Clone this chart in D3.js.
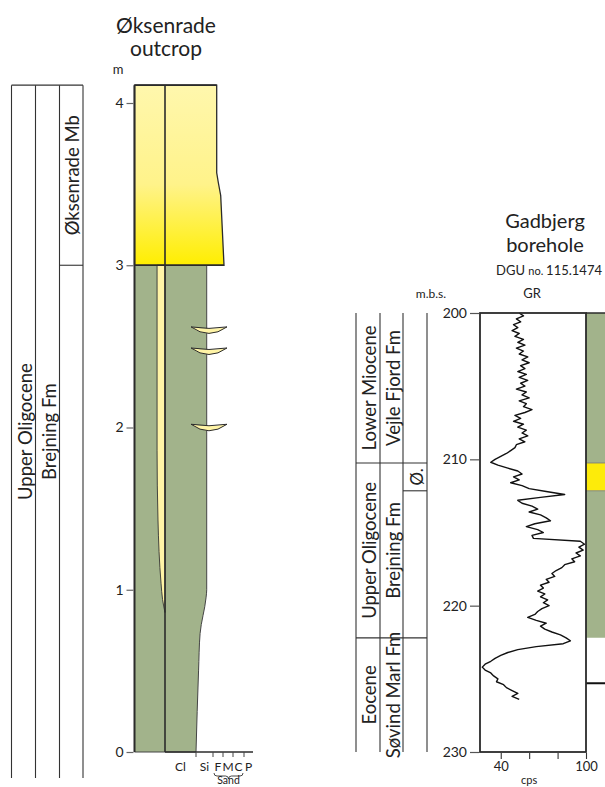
<!DOCTYPE html>
<html><head><meta charset="utf-8">
<script src="https://cdn.jsdelivr.net/npm/d3@7/dist/d3.min.js"></script>
<style>body{margin:0;background:#fff} svg{display:block;font-family:Lato,"Open Sans",sans-serif}</style>
</head><body>
<svg id="c" width="605" height="787"></svg>
<script>
// ---------- DATA: outcrop ----------
const outcropTicks = [0, 1, 2, 3, 4];
const grainLabels = ["Cl", "Si", "F", "M", "C", "P"];
const grainBoundaries = [1, 2, 3, 4, 5];
const outcropTop = 4.11;
const outcropBase = 0;
const unitBoundary = 3.0;
const greenProfileH = [0, 0.5, 0.73, 0.95, 1.0, 3.0];
const greenProfileG = [1.0, 1.15, 1.24, 1.59, 1.63, 1.63];
const yellowProfileH = [3.0, 3.43, 3.51, 3.57, 4.11];
const yellowProfileG = [3.1, 2.77, 2.53, 2.37, 2.37];
const wedgeH = [0.86, 0.94, 1.04, 1.43, 1.86, 3.0];
const wedgeW = [1.0, 0.92, 0.87, 0.77, 0.74, 0.74];
const lensHeights = [2.62, 2.49, 2.02];
const lensGrain = [0.84, 1.76, 3.4];
const leftEpochs = [{name: "Upper Oligocene", from: -0.16, to: 4.11}];
const leftFormations = [{name: "Brejning Fm", from: -0.16, to: 4.11}];
const leftMembers = [{name: "", from: -0.16, to: 3.0}, {name: "Øksenrade Mb", from: 3.0, to: 4.11}];

// ---------- DATA: borehole ----------
const depthTicks = [200, 210, 220, 230];
const cpsTicks = [40, 60, 80, 100];
const cpsLabels = [40, 100];
const rightEpochs = [{name: "Lower Miocene", from: 200, to: 210.25}, {name: "Upper Oligocene", from: 210.25, to: 222.2}, {name: "Eocene", from: 222.2, to: 230}];
const rightFormations = [{name: "Vejle Fjord Fm", from: 200, to: 210.25}, {name: "Brejning Fm", from: 210.25, to: 222.2}, {name: "Søvind Marl Fm", from: 222.2, to: 230}];
const rightMembers = [{name: "", from: 200, to: 210.25}, {name: "Ø.", from: 210.25, to: 212.15}, {name: "", from: 212.15, to: 222.2}, {name: "", from: 222.2, to: 230}];
const lithology = [{type: "mud", from: 200, to: 210.25}, {type: "sand", from: 210.25, to: 212.15}, {type: "mud", from: 212.15, to: 222.2}, {type: "none", from: 222.2, to: 230}];
const lithoLine = 225.3;
const grDepth = [200.0,200.2,200.4,200.6,200.8,201.0,201.2,201.4,201.6,201.8,202.0,202.2,202.4,202.6,202.8,203.0,203.2,203.4,203.6,203.8,204.0,204.2,204.4,204.6,204.8,205.0,205.2,205.4,205.6,205.8,206.0,206.2,206.4,206.6,206.8,207.0,207.2,207.4,207.6,207.8,208.0,208.2,208.4,208.6,208.8,209.0,209.2,209.4,209.6,209.8,210.0,210.2,210.4,210.6,210.8,211.0,211.2,211.4,211.6,211.8,212.0,212.2,212.4,212.6,212.8,213.0,213.2,213.4,213.6,213.8,214.0,214.2,214.4,214.6,214.8,215.0,215.2,215.4,215.6,215.8,216.0,216.2,216.4,216.6,216.8,217.0,217.2,217.4,217.6,217.8,218.0,218.2,218.4,218.6,218.8,219.0,219.2,219.4,219.6,219.8,220.0,220.2,220.4,220.6,220.8,221.0,221.2,221.4,221.6,221.8,222.0,222.2,222.4,222.6,222.8,223.0,223.2,223.4,223.6,223.8,224.0,224.2,224.4,224.6,224.8,225.0,225.2,225.4,225.6,225.8,226.0,226.2,226.4];
const grCps = [53,56,51,54,49,52,48,53,50,56,52,57,51,56,53,59,55,60,54,57,52,58,53,59,54,57,51,58,55,60,53,58,56,62,57,50,54,49,56,52,58,55,59,53,57,51,50,47,44,40,36,33,38,45,52,55,49,53,47,55,60,72,85,68,52,55,62,66,60,68,72,75,64,58,66,70,62,63,96,99,95,98,93,96,90,92,85,83,79,76,78,72,74,68,70,66,71,68,73,70,74,69,66,64,59,65,72,68,71,76,82,86,89,84,65,52,45,40,36,33,29,27,29,33,35,38,37,42,44,48,52,48,53];

// ---------- DRAW ----------
const svg = d3.select("#c");
const dark = "#2b2b2b", green = "#a2b38b", paleY = "#fff4a6";
const defs = svg.append("defs");
const g1 = defs.append("linearGradient").attr("id", "ygrad").attr("x1", 0).attr("y1", 0).attr("x2", 0).attr("y2", 1);
g1.append("stop").attr("offset", "0%").attr("stop-color", "#fff7ad");
g1.append("stop").attr("offset", "55%").attr("stop-color", "#fff38a");
g1.append("stop").attr("offset", "100%").attr("stop-color", "#ffee00");

// Outcrop scales
const yOut = d3.scaleLinear().domain([0, 4]).range([752, 103]);
const grainX = d3.scaleLinear().domain([0, 1, 2, 3, 4, 5, 6]).range([165, 196, 213, 223, 233, 244, 253]);
const colLeft = 134.5, colDiv = 165;
const wedgeX = d3.scaleLinear().domain([0, 1]).range([colLeft, colDiv]);

// titles
svg.append("text").attr("x", 166).attr("y", 33).attr("text-anchor", "middle").attr("font-size", 21).attr("fill", "#222").text("Øksenrade");
svg.append("text").attr("x", 166).attr("y", 56).attr("text-anchor", "middle").attr("font-size", 21).attr("fill", "#222").text("outcrop");
svg.append("text").attr("x", 118).attr("y", 74).attr("text-anchor", "middle").attr("font-size", 13).attr("fill", "#222").text("m");

// green body
const greenData = greenProfileH.map((h, i) => ({h, g: greenProfileG[i]}));
const areaG = d3.area().y(d => yOut(d.h)).x0(colLeft).x1(d => grainX(d.g)).curve(d3.curveMonotoneY);
svg.append("path").datum(greenData).attr("d", areaG).attr("fill", green).attr("stroke", "#444").attr("stroke-width", 1);

const yellowData = yellowProfileH.map((h, i) => ({h, g: yellowProfileG[i]}));
const areaY = d3.area().y(d => yOut(d.h)).x0(colLeft).x1(d => grainX(d.g)).curve(d3.curveLinear);
svg.append("path").datum(yellowData).attr("d", areaY).attr("fill", "url(#ygrad)").attr("stroke", dark).attr("stroke-width", 1.3);

// wedge
const wedgeData = wedgeH.map((h, i) => ({h, w: wedgeW[i]}));
const areaW = d3.area().y(d => yOut(d.h)).x0(d => wedgeX(d.w)).x1(colDiv).curve(d3.curveMonotoneY);
svg.append("path").datum(wedgeData).attr("d", areaW).attr("fill", paleY).attr("stroke", "#333").attr("stroke-width", 0.9);

// lenses
lensHeights.forEach(h => {
  const y = yOut(h), xl = grainX(lensGrain[0]), xm = grainX(lensGrain[1]), xr = grainX(lensGrain[2]);
  const p = d3.path();
  p.moveTo(xl, y);
  p.quadraticCurveTo(xm, y + 13, xr, y);
  p.quadraticCurveTo(xm, y + 3, xl, y);
  p.closePath();
  svg.append("path").attr("d", p.toString()).attr("fill", paleY).attr("stroke", dark).attr("stroke-width", 1);
});

// column borders
svg.append("line").attr("x1", colLeft).attr("x2", colLeft).attr("y1", yOut(outcropTop)).attr("y2", yOut(0)).attr("stroke", dark).attr("stroke-width", 2);
svg.append("line").attr("x1", colDiv).attr("x2", colDiv).attr("y1", yOut(outcropTop)).attr("y2", yOut(0)).attr("stroke", dark).attr("stroke-width", 1.6);
svg.append("line").attr("x1", colLeft).attr("x2", grainX(yellowProfileG[yellowProfileG.length-1])).attr("y1", yOut(outcropTop)).attr("y2", yOut(outcropTop)).attr("stroke", dark).attr("stroke-width", 1.6);
svg.append("line").attr("x1", colLeft).attr("x2", grainX(yellowProfileG[0])).attr("y1", yOut(unitBoundary)).attr("y2", yOut(unitBoundary)).attr("stroke", dark).attr("stroke-width", 1.6);

// left axis
const yAxisG = svg.append("g").attr("transform", `translate(${colLeft - 1},0)`)
  .call(d3.axisLeft(yOut).tickValues(outcropTicks).tickFormat(d3.format("d")).tickSize(7).tickPadding(3));
yAxisG.select(".domain").remove();
yAxisG.selectAll(".tick line").attr("stroke", "#666").attr("stroke-width", 1.2);
yAxisG.selectAll(".tick text").attr("font-size", 14).attr("fill", "#222").attr("font-family", "Lato");

// bottom grain axis
svg.append("line").attr("x1", colDiv).attr("x2", grainX(6)).attr("y1", yOut(0)).attr("y2", yOut(0)).attr("stroke", dark).attr("stroke-width", 1.6);
svg.selectAll(".gtick").data(grainBoundaries).join("line").attr("class", "gtick")
  .attr("x1", d => grainX(d)).attr("x2", d => grainX(d)).attr("y1", yOut(0)).attr("y2", yOut(0) + 5)
  .attr("stroke", "#444").attr("stroke-width", 1);
svg.selectAll(".glab").data(grainLabels).join("text").attr("class", "glab")
  .attr("x", (d, i) => grainX(i + 0.5)).attr("y", 771).attr("text-anchor", "middle")
  .attr("font-size", 12).attr("fill", "#222").text(d => d);
{
  const x0 = grainX(2) + 1, x1 = grainX(5) - 1, xm = (x0 + x1) / 2, y0 = 773;
  const b = `M${x0},${y0} q0,3 3,3 L${xm-3},${y0+3} q3,0 3,3 q0,-3 3,-3 L${x1-3},${y0+3} q3,0 3,-3`;
  svg.append("path").attr("d", b).attr("fill", "none").attr("stroke", "#333").attr("stroke-width", 0.9);
  svg.append("text").attr("x", xm).attr("y", 784).attr("text-anchor", "middle").attr("font-size", 10.5).attr("fill", "#222").text("Sand");
}

// left strat columns
const stratX = [11.5, 35.5, 59.5, 83];
const leftTopY = yOut(4.11), leftBotY = 778;
stratX.forEach(x => svg.append("line").attr("x1", x).attr("x2", x).attr("y1", leftTopY).attr("y2", leftBotY).attr("stroke", "#333").attr("stroke-width", 1.1));
svg.append("line").attr("x1", stratX[0]).attr("x2", stratX[3]).attr("y1", leftTopY).attr("y2", leftTopY).attr("stroke", "#333").attr("stroke-width", 1.1);
function stratText(list, xl, xr, yScale, size) {
  list.forEach(s => {
    if (!s.name) return;
    const cy = (yScale(s.from) + yScale(s.to)) / 2, cx = (xl + xr) / 2;
    svg.append("text").attr("transform", `translate(${cx + 1},${cy}) rotate(-90)`)
      .attr("text-anchor", "middle").attr("dominant-baseline", "central")
      .attr("font-size", size).attr("fill", "#222").text(s.name);
  });
}
function stratLines(list, xl, xr, yScale) {
  list.slice(1).forEach(s => {
    svg.append("line").attr("x1", xl).attr("x2", xr).attr("y1", yScale(s.from)).attr("y2", yScale(s.from)).attr("stroke", "#333").attr("stroke-width", 1.1);
  });
}
const yLeftStrat = d3.scaleLinear().domain([0, 4]).range([752, 103]);
stratText(leftEpochs, stratX[0], stratX[1], yLeftStrat, 18.5);
stratText(leftFormations, stratX[1], stratX[2], yLeftStrat, 18.5);
stratText(leftMembers, stratX[2], stratX[3], yLeftStrat, 18.5);
stratLines(leftMembers, stratX[2], stratX[3], yLeftStrat);

// ---------- Borehole ----------
const yB = d3.scaleLinear().domain([200, 230]).range([313, 752]);
const xGR = d3.scaleLinear().domain([25.4, 100]).range([480, 586]);
svg.append("text").attr("x", 545).attr("y", 228).attr("text-anchor", "middle").attr("font-size", 20).attr("fill", "#222").text("Gadbjerg");
svg.append("text").attr("x", 545).attr("y", 252).attr("text-anchor", "middle").attr("font-size", 20).attr("fill", "#222").text("borehole");
{
  const t = svg.append("text").attr("x", 549).attr("y", 275).attr("text-anchor", "middle").attr("font-size", 13).attr("fill", "#222");
  t.append("tspan").text("DGU ");
  t.append("tspan").attr("font-size", 11).text("no. ");
  t.append("tspan").text("115.1474");
}
svg.append("text").attr("x", 431).attr("y", 298).attr("text-anchor", "middle").attr("font-size", 12).attr("fill", "#222").text("m.b.s.");
svg.append("text").attr("x", 532).attr("y", 298).attr("text-anchor", "middle").attr("font-size", 13).attr("fill", "#222").text("GR");

// lithology column
const lithX0 = 586, lithX1 = 640;
svg.selectAll(".lith").data(lithology).join("rect").attr("class", "lith")
  .attr("x", lithX0).attr("width", lithX1 - lithX0)
  .attr("y", d => yB(d.from)).attr("height", d => yB(d.to) - yB(d.from))
  .attr("fill", d => d.type === "mud" ? green : d.type === "sand" ? "#fdeb0a" : "#fff");
lithology.filter(d => d.type === "sand").forEach(d => {
  [d.from, d.to].forEach(v => svg.append("line").attr("x1", lithX0).attr("x2", lithX1).attr("y1", yB(v)).attr("y2", yB(v)).attr("stroke", "#777").attr("stroke-width", 0.8));
});
svg.append("line").attr("x1", lithX0).attr("x2", lithX1).attr("y1", yB(lithoLine)).attr("y2", yB(lithoLine)).attr("stroke", "#111").attr("stroke-width", 2);
svg.append("line").attr("x1", lithX0).attr("x2", lithX1).attr("y1", yB(200)).attr("y2", yB(200)).attr("stroke", dark).attr("stroke-width", 1.6);

// GR curve
const grData = grDepth.map((d, i) => ({d, c: grCps[i]}));
svg.append("path").datum(grData).attr("d", d3.line().x(p => xGR(p.c)).y(p => yB(p.d)))
  .attr("fill", "none").attr("stroke", "#111").attr("stroke-width", 1.4).attr("stroke-linejoin", "round");

// GR box
svg.append("rect").attr("x", xGR(25.4)).attr("y", yB(200)).attr("width", xGR(100) - xGR(25.4)).attr("height", yB(230) - yB(200))
  .attr("fill", "none").attr("stroke", dark).attr("stroke-width", 1.8);

// depth axis
const dAx = svg.append("g").attr("transform", `translate(${xGR(25.4) - 1},0)`)
  .call(d3.axisLeft(yB).tickValues(depthTicks).tickFormat(d3.format("d")).tickSize(9).tickPadding(3));
dAx.select(".domain").remove();
dAx.selectAll(".tick line").attr("stroke", "#555").attr("stroke-width", 1.2);
dAx.selectAll(".tick text").attr("font-size", 14).attr("fill", "#222").attr("font-family", "Lato");

// cps axis
const cAx = svg.append("g").attr("transform", `translate(0,${yB(230) + 1})`)
  .call(d3.axisBottom(xGR).tickValues(cpsTicks).tickFormat(d => cpsLabels.includes(d) ? d : "").tickSize(6).tickPadding(3));
cAx.select(".domain").remove();
cAx.selectAll(".tick line").attr("stroke", "#333").attr("stroke-width", 1.1);
cAx.selectAll(".tick text").attr("font-size", 13).attr("fill", "#222").attr("font-family", "Lato");
svg.append("text").attr("x", xGR(60)).attr("y", 784).attr("text-anchor", "middle").attr("font-size", 11).attr("fill", "#222").text("cps");

// right strat columns
const rX = [356, 380, 403, 427];
rX.forEach(x => svg.append("line").attr("x1", x).attr("x2", x).attr("y1", yB(200)).attr("y2", yB(230)).attr("stroke", "#333").attr("stroke-width", 1.1));
stratLines(rightEpochs, rX[0], rX[3], yB);
stratLines(rightMembers.slice(1, 3), rX[2], rX[3], yB);
stratText(rightEpochs, rX[0], rX[1], yB, 18.5);
stratText(rightFormations, rX[1], rX[2], yB, 18.5);
stratText(rightMembers, rX[2], rX[3], yB, 17);
</script>
</body></html>
